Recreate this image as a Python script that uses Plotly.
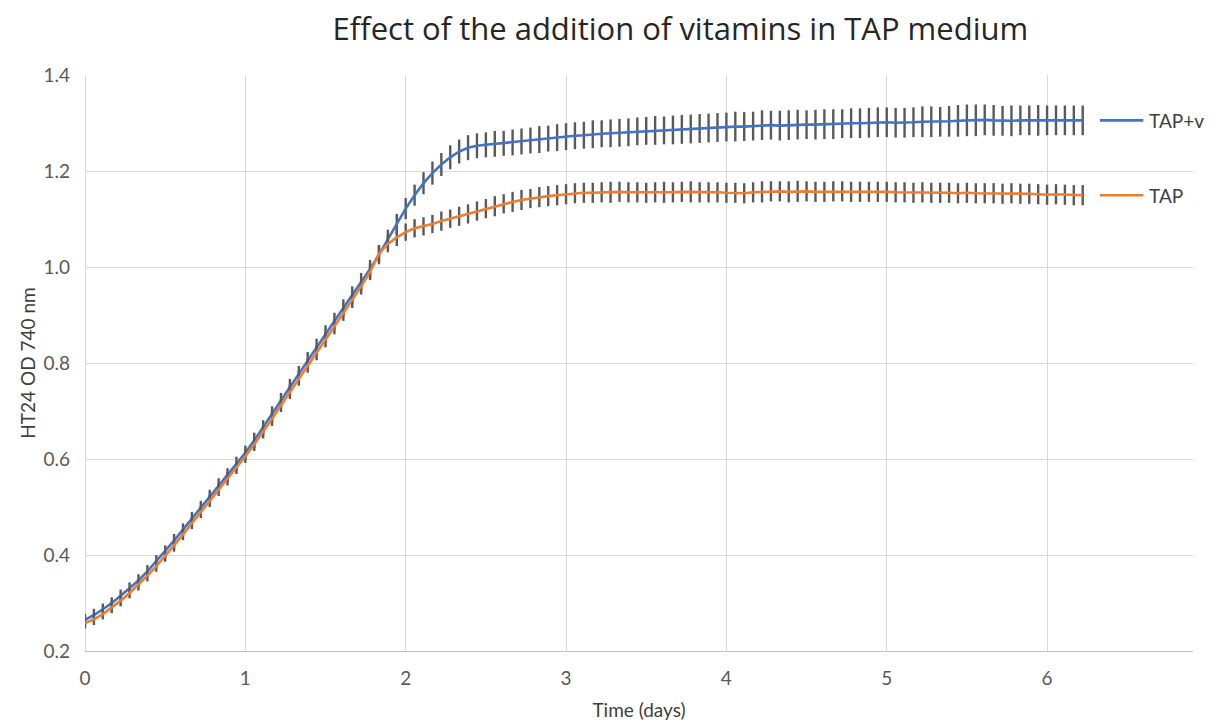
import plotly.graph_objects as go

# Sampling: one reading every 80 minutes (18 per day), 113 readings in total
n_points = 113
readings_per_day = 18
time_days = [i / readings_per_day for i in range(n_points)]

# Optical density (740 nm), mean of replicates
od_tap_v = [
    0.265, 0.275, 0.287, 0.300, 0.315, 0.331, 0.347, 0.366, 0.387,
    0.407, 0.430, 0.453, 0.476, 0.499, 0.522, 0.545, 0.567, 0.590,
    0.613, 0.639, 0.666, 0.694, 0.722, 0.750, 0.778, 0.806, 0.834,
    0.861, 0.888, 0.915, 0.942, 0.969, 0.996, 1.026, 1.058, 1.090,
    1.122, 1.150, 1.175, 1.196, 1.214, 1.229, 1.241, 1.249, 1.253,
    1.255, 1.257, 1.258, 1.260, 1.262, 1.264, 1.266, 1.268, 1.270,
    1.272, 1.274, 1.275, 1.277, 1.278, 1.279, 1.280, 1.281, 1.283,
    1.284, 1.285, 1.285, 1.286, 1.287, 1.288, 1.289, 1.290, 1.291,
    1.292, 1.293, 1.293, 1.294, 1.296, 1.296, 1.295, 1.296, 1.297,
    1.297, 1.297, 1.298, 1.298, 1.299, 1.300, 1.300, 1.301, 1.302,
    1.302, 1.301, 1.301, 1.302, 1.303, 1.303, 1.303, 1.304, 1.305,
    1.306, 1.306, 1.307, 1.306, 1.305, 1.305, 1.306, 1.306, 1.306,
    1.306, 1.306, 1.306, 1.306, 1.306,
]

od_tap = [
    0.258, 0.266, 0.277, 0.291, 0.305, 0.321, 0.338, 0.357, 0.377,
    0.398, 0.420, 0.443, 0.467, 0.490, 0.513, 0.536, 0.559, 0.582,
    0.606, 0.631, 0.657, 0.684, 0.712, 0.740, 0.768, 0.795, 0.822,
    0.849, 0.876, 0.904, 0.932, 0.960, 0.990, 1.028, 1.049, 1.062,
    1.073, 1.081, 1.085, 1.090, 1.096, 1.101, 1.106, 1.111, 1.117,
    1.122, 1.127, 1.132, 1.136, 1.140, 1.143, 1.146, 1.148, 1.150,
    1.152, 1.154, 1.155, 1.155, 1.156, 1.156, 1.157, 1.156, 1.156,
    1.155, 1.156, 1.156, 1.156, 1.157, 1.157, 1.156, 1.156, 1.156,
    1.155, 1.155, 1.154, 1.156, 1.157, 1.158, 1.158, 1.157, 1.158,
    1.158, 1.157, 1.157, 1.158, 1.158, 1.157, 1.157, 1.157, 1.157,
    1.157, 1.156, 1.156, 1.155, 1.156, 1.155, 1.155, 1.155, 1.154,
    1.155, 1.154, 1.154, 1.154, 1.153, 1.154, 1.153, 1.153, 1.152,
    1.151, 1.152, 1.151, 1.150, 1.150,
]

# Standard deviation of replicates
sd_tap_v = [
    0.012, 0.013, 0.012, 0.012, 0.013, 0.012, 0.013, 0.013, 0.013,
    0.013, 0.014, 0.013, 0.014, 0.014, 0.014, 0.015, 0.014, 0.015,
    0.015, 0.016, 0.015, 0.016, 0.016, 0.017, 0.016, 0.017, 0.017,
    0.018, 0.017, 0.018, 0.018, 0.019, 0.019, 0.020, 0.020, 0.021,
    0.022, 0.022, 0.023, 0.024, 0.024, 0.025, 0.025, 0.026, 0.026,
    0.026, 0.027, 0.026, 0.027, 0.027, 0.027, 0.028, 0.027, 0.028,
    0.028, 0.028, 0.028, 0.029, 0.028, 0.029, 0.029, 0.029, 0.029,
    0.029, 0.030, 0.029, 0.030, 0.030, 0.030, 0.030, 0.030, 0.030,
    0.030, 0.031, 0.030, 0.030, 0.031, 0.030, 0.031, 0.031, 0.031,
    0.030, 0.031, 0.031, 0.031, 0.030, 0.031, 0.031, 0.031, 0.031,
    0.031, 0.031, 0.031, 0.031, 0.032, 0.032, 0.031, 0.032, 0.033,
    0.033, 0.033, 0.032, 0.032, 0.031, 0.032, 0.031, 0.031, 0.032,
    0.031, 0.031, 0.031, 0.031, 0.031,
]

sd_tap = [
    0.011, 0.012, 0.011, 0.012, 0.012, 0.011, 0.012, 0.012, 0.012,
    0.012, 0.013, 0.012, 0.013, 0.013, 0.013, 0.013, 0.014, 0.013,
    0.014, 0.014, 0.014, 0.015, 0.014, 0.015, 0.015, 0.015, 0.016,
    0.016, 0.016, 0.016, 0.017, 0.017, 0.017, 0.018, 0.018, 0.018,
    0.018, 0.019, 0.019, 0.019, 0.020, 0.019, 0.020, 0.020, 0.020,
    0.020, 0.021, 0.020, 0.021, 0.021, 0.020, 0.021, 0.021, 0.021,
    0.021, 0.021, 0.021, 0.021, 0.021, 0.022, 0.021, 0.021, 0.021,
    0.021, 0.021, 0.022, 0.021, 0.021, 0.022, 0.021, 0.021, 0.021,
    0.021, 0.021, 0.021, 0.021, 0.022, 0.021, 0.021, 0.022, 0.022,
    0.021, 0.021, 0.021, 0.021, 0.021, 0.021, 0.021, 0.021, 0.021,
    0.021, 0.021, 0.021, 0.021, 0.021, 0.021, 0.021, 0.021, 0.021,
    0.021, 0.021, 0.021, 0.021, 0.021, 0.021, 0.021, 0.021, 0.021,
    0.021, 0.021, 0.021, 0.021, 0.021,
]

series_names = ["TAP+v", "TAP"]
series_values = [od_tap_v, od_tap]
series_sd = [sd_tap_v, sd_tap]
series_colors = ["#4472C4", "#ED7D31"]

x_ticks = [0, 1, 2, 3, 4, 5, 6]
y_ticks = [0.2, 0.4, 0.6, 0.8, 1.0, 1.2, 1.4]

tick_font = dict(family="Lato, Carlito, sans-serif", size=19, color="#595959")
axis_title_font = dict(family="Lato, sans-serif", size=19, color="#404040")
err_color = "#595959"

fig = go.Figure()
for name, vals, sd, col in zip(series_names, series_values, series_sd, series_colors):
    fig.add_trace(go.Scatter(
        x=time_days, y=vals, name=name, mode="lines",
        line=dict(color=col, width=2.6),
        error_y=dict(type="data", array=sd, visible=True,
                     color=err_color, thickness=2.4, width=0),
        showlegend=False,
    ))

# Series labels with a short key line at the end of each curve
key_x0, key_x1 = 6.33, 6.60
for name, vals, col in zip(series_names, series_values, series_colors):
    y_end = vals[-1]
    fig.add_shape(type="line", x0=key_x0, x1=key_x1, y0=y_end, y1=y_end,
                  xref="x", yref="y", line=dict(color=col, width=2.6))
    fig.add_annotation(x=key_x1 + 0.025, y=y_end, xref="x", yref="y",
                       text=name, showarrow=False, xanchor="left",
                       yanchor="middle",
                       font=dict(family="Lato, sans-serif", size=19,
                                 color="#404040"))

fig.update_layout(
    width=1215, height=722,
    margin=dict(l=85, r=22, t=75, b=71),
    paper_bgcolor="white", plot_bgcolor="white",
    title=dict(text="Effect of the addition of vitamins in TAP medium",
               x=0.56, xref="container", xanchor="center",
               y=0.96, yref="container", yanchor="middle",
               font=dict(family="Open Sans, sans-serif", size=31,
                         color="#262626")),
)

fig.update_xaxes(
    range=[0, 6.91], tickmode="array", tickvals=x_ticks,
    ticktext=[str(v) for v in x_ticks],
    showgrid=True, gridcolor="#D9D9D9", gridwidth=1,
    zeroline=True, zerolinecolor="#D9D9D9", zerolinewidth=1,
    showline=True, linecolor="#BFBFBF", linewidth=1.2,
    ticks="", ticklabelstandoff=10, tickfont=tick_font, automargin=False,
    title=dict(text="Time (days)", standoff=15, font=axis_title_font),
)
fig.update_yaxes(
    range=[0.2, 1.4005], tickmode="array", tickvals=y_ticks,
    ticktext=[f"{v:.1f}" for v in y_ticks],
    showgrid=True, gridcolor="#D9D9D9", gridwidth=1,
    zeroline=False, showline=False,
    ticks="", ticklabelstandoff=14, tickfont=tick_font, automargin=False,
    title=dict(text="HT24 OD 740 nm", standoff=2, font=axis_title_font),
)

fig.write_html("out.html")
